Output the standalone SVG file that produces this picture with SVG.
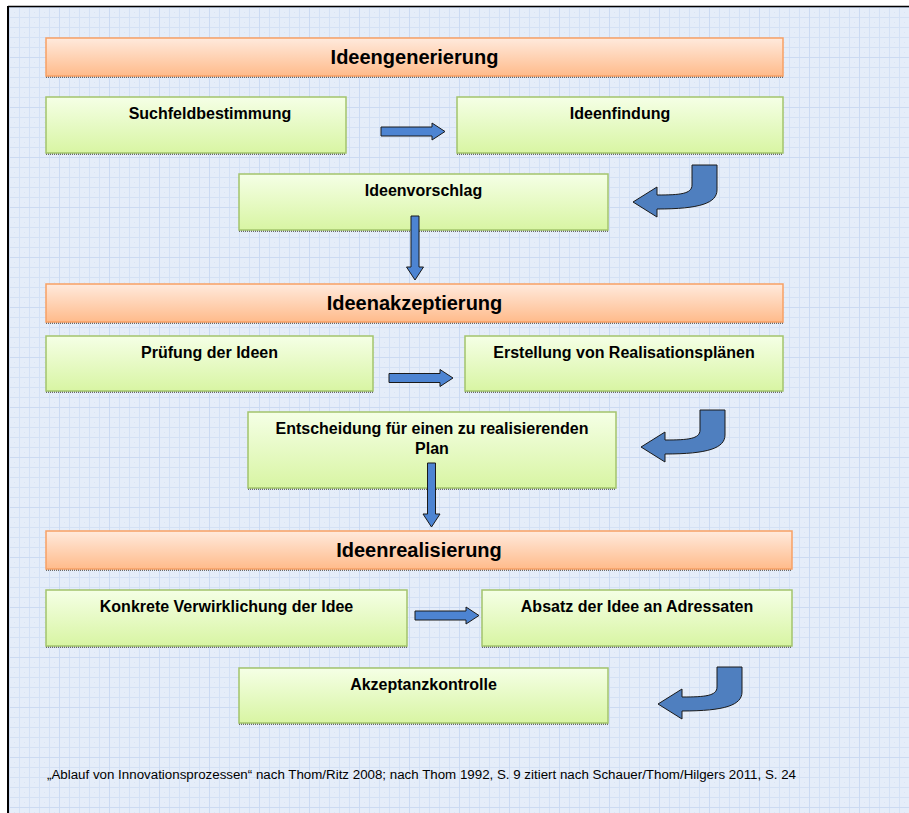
<svg xmlns="http://www.w3.org/2000/svg" width="909" height="813" viewBox="0 0 909 813">
<defs>
<pattern id="grid" x="9" y="7" width="10" height="10" patternUnits="userSpaceOnUse">
<rect width="10" height="10" fill="#e5edf9"/>
<path d="M0,0.5 H10 M0.5,0 V10" stroke="#d4e1f5" stroke-width="1" fill="none"/>
<rect x="5" y="5" width="1" height="1" fill="#d9e4f5"/>
</pattern>
<pattern id="grid5" x="9" y="7" width="50" height="50" patternUnits="userSpaceOnUse">
<path d="M0,0.5 H50 M0.5,0 V50" stroke="#cbdaf2" stroke-width="1" fill="none"/>
</pattern>
<linearGradient id="gOrange" x1="0" y1="0" x2="0" y2="1">
<stop offset="0" stop-color="#ffeadd"/>
<stop offset="1" stop-color="#ffbb8b"/>
</linearGradient>
<linearGradient id="gGreen" x1="0" y1="0" x2="0" y2="1">
<stop offset="0" stop-color="#f5ffe6"/>
<stop offset="1" stop-color="#d8f5a3"/>
</linearGradient>
<path id="arrR" d="M0,-4.5 H51 V-8.5 L64,0 L51,8.5 V4.5 H0 Z"/>
<path id="arrD" d="M-4,0 V51 H-8.5 L0,64 L8.5,51 H4 V0 Z"/>
<path id="arrU" d="M59,0 H84 V25 C84,38 67,44 24,44 V52 L0,37 L24,22 V30 C47,30 59,29 59,20 Z"/>
</defs>
<style>
.hdr{fill:url(#gOrange);stroke:#f7a064;stroke-width:1.5}
.box{fill:url(#gGreen);stroke:#a3c46c;stroke-width:1.5}
.sh{stroke:#6a6a6a;stroke-width:2;stroke-dasharray:1 1}
.ht{font-family:"Liberation Sans",Arial,sans-serif;font-weight:bold;font-size:20px;fill:#000;text-anchor:middle}
.bt{font-family:"Liberation Sans",Arial,sans-serif;font-weight:bold;font-size:16px;fill:#000;text-anchor:middle}
.ft{font-family:"Liberation Sans",Arial,sans-serif;font-size:12px;fill:#000}
.arr{fill:#4d84d2;stroke:#1a1a1a;stroke-width:1}
.arc{fill:#4f7fbf;stroke:#1a1a1a;stroke-width:1}
</style>
<rect width="909" height="813" fill="#ffffff"/>
<rect x="8" y="6" width="901" height="807" fill="url(#grid)"/>
<rect x="8" y="6" width="901" height="807" fill="url(#grid5)"/>
<line x1="8" y1="6.5" x2="909" y2="6.5" stroke="#000" stroke-width="1.5"/>
<line x1="8" y1="6" x2="8" y2="813" stroke="#000" stroke-width="2"/>

<g id="ideengenerierung">
<line class="sh" x1="46" y1="77" x2="783" y2="77"/>
<rect class="hdr" x="46" y="38" width="737" height="38"/>
<text class="ht" x="414.5" y="64">Ideengenerierung</text>
</g>
<g id="suchfeldbestimmung">
<line class="sh" x1="46" y1="154" x2="346" y2="154"/>
<rect class="box" x="46" y="97" width="300" height="56"/>
<text class="bt" x="210" y="119">Suchfeldbestimmung</text>
</g>
<g id="ideenfindung">
<line class="sh" x1="457" y1="154" x2="783" y2="154"/>
<rect class="box" x="457" y="97" width="326" height="56"/>
<text class="bt" x="620" y="119">Ideenfindung</text>
</g>
<g id="ideenvorschlag">
<line class="sh" x1="239" y1="231" x2="608" y2="231"/>
<rect class="box" x="239" y="174" width="369" height="56"/>
<text class="bt" x="423.5" y="196">Ideenvorschlag</text>
</g>

<g id="ideenakzeptierung">
<line class="sh" x1="46" y1="323" x2="783" y2="323"/>
<rect class="hdr" x="46" y="284" width="737" height="38"/>
<text class="ht" x="414.5" y="310">Ideenakzeptierung</text>
</g>
<g id="pruefung">
<line class="sh" x1="46" y1="392" x2="373" y2="392"/>
<rect class="box" x="46" y="336" width="327" height="55"/>
<text class="bt" x="209.5" y="358">Prüfung der Ideen</text>
</g>
<g id="erstellung">
<line class="sh" x1="465" y1="392" x2="783" y2="392"/>
<rect class="box" x="465" y="336" width="318" height="55"/>
<text class="bt" x="624" y="358">Erstellung von Realisationsplänen</text>
</g>
<g id="entscheidung">
<line class="sh" x1="248" y1="489" x2="616" y2="489"/>
<rect class="box" x="248" y="412" width="368" height="76"/>
<text class="bt" x="432" y="434">Entscheidung für einen zu realisierenden</text>
<text class="bt" x="432" y="454">Plan</text>
</g>

<g id="ideenrealisierung">
<line class="sh" x1="46" y1="570" x2="792" y2="570"/>
<rect class="hdr" x="46" y="531" width="746" height="38"/>
<text class="ht" x="419" y="557">Ideenrealisierung</text>
</g>
<g id="konkrete">
<line class="sh" x1="46" y1="647" x2="407" y2="647"/>
<rect class="box" x="46" y="590" width="361" height="56"/>
<text class="bt" x="226.5" y="612">Konkrete Verwirklichung der Idee</text>
</g>
<g id="absatz">
<line class="sh" x1="482" y1="647" x2="792" y2="647"/>
<rect class="box" x="482" y="590" width="310" height="56"/>
<text class="bt" x="637" y="612">Absatz der Idee an Adressaten</text>
</g>
<g id="akzeptanzkontrolle">
<line class="sh" x1="239" y1="724" x2="608" y2="724"/>
<rect class="box" x="239" y="668" width="369" height="55"/>
<text class="bt" x="423.5" y="690">Akzeptanzkontrolle</text>
</g>

<g id="connectors">
<use href="#arrR" class="arr" transform="translate(381,131.5)"/>
<use href="#arrU" class="arc" transform="translate(633,165)"/>
<use href="#arrD" class="arr" transform="translate(415,216)"/>
<use href="#arrR" class="arr" transform="translate(389,378)"/>
<use href="#arrU" class="arc" transform="translate(641,410)"/>
<use href="#arrD" class="arr" transform="translate(431.5,463)"/>
<use href="#arrR" class="arr" transform="translate(415,615.5)"/>
<use href="#arrU" class="arc" transform="translate(658,667)"/>
</g>

<text class="ft" x="47" y="779" textLength="749" lengthAdjust="spacingAndGlyphs">„Ablauf von Innovationsprozessen“ nach Thom/Ritz 2008; nach Thom 1992, S. 9 zitiert nach Schauer/Thom/Hilgers 2011, S. 24</text>
</svg>
